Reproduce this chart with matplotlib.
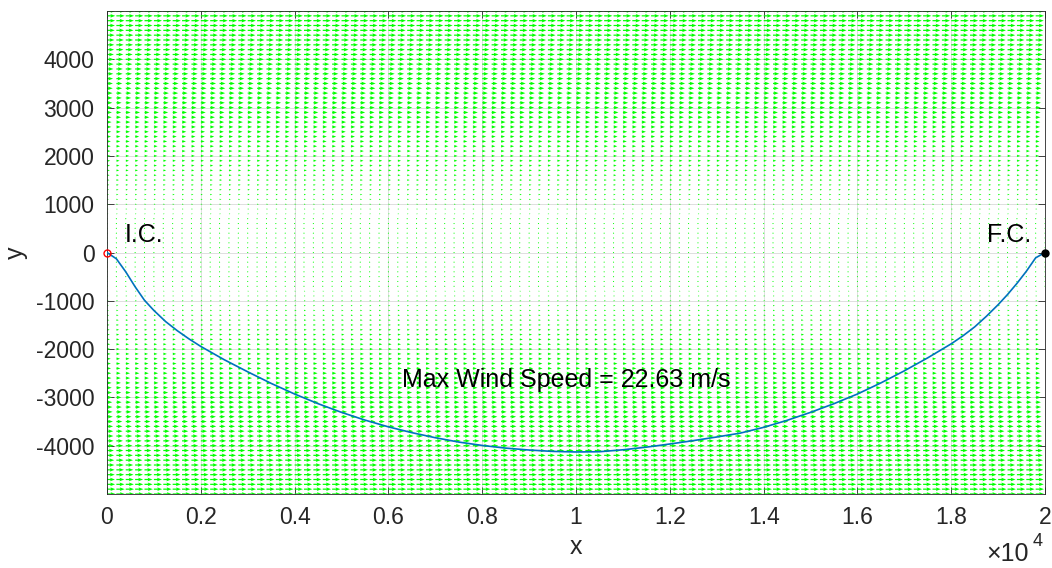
import numpy as np
import matplotlib
matplotlib.use('Agg')
import matplotlib.pyplot as plt

plt.rcParams['font.family'] = ['Liberation Sans', 'DejaVu Sans']

# trajectory
path_x = [0, 200, 400, 600, 800, 1000, 1250, 1500, 1750, 2000,
          2500, 3000, 3500, 4000, 4500, 5000, 5500, 6000, 6500, 7000, 7500, 8000,
          8500, 9000, 9500, 10000,
          10500, 11000, 11500, 12000, 12500, 13000, 13500, 14000, 14500, 15000,
          15500, 16000, 16500, 17000, 17500, 18000,
          18250, 18500, 18750, 19000, 19200, 19400, 19600, 19800, 20000]
path_y = [0, -130, -400, -710, -990, -1200, -1430, -1620, -1790, -1945,
          -2220, -2470, -2710, -2930, -3130, -3310, -3470, -3610, -3730, -3835, -3925, -3995,
          -4050, -4090, -4118, -4130,
          -4125, -4085, -4030, -3965, -3895, -3820, -3740, -3620, -3475, -3310,
          -3130, -2930, -2700, -2450, -2180, -1890,
          -1725, -1540, -1320, -1080, -870, -640, -390, -110, 0]

# wind field grid
field_x = np.arange(0, 20001, 200)
field_y = np.arange(-5000, 5001, 100)
max_wind = 22.63
xticks = [0, 2000, 4000, 6000, 8000, 10000, 12000, 14000, 16000, 18000, 20000]
xtick_labels = ['0', '0.2', '0.4', '0.6', '0.8', '1', '1.2', '1.4', '1.6', '1.8', '2']
yticks = [-4000, -3000, -2000, -1000, 0, 1000, 2000, 3000, 4000]

fig = plt.figure(figsize=(10.52, 5.68), dpi=100)
ax = fig.add_axes([0.1017, 0.1303, 0.8917, 0.8503])

X, Y = np.meshgrid(field_x, field_y)
U = max_wind * np.abs(Y) / 5000.0
V = np.zeros_like(U)
ax.quiver(X, Y, U, V, color=(0, 1, 0), angles='xy', scale_units='xy',
          scale=max_wind / 180.0, width=0.0013, headwidth=3, headlength=4,
          headaxislength=3.5, zorder=2)

ax.plot(path_x, path_y, color=(0, 0.447, 0.741), lw=1.2, zorder=3)
ax.plot([0], [0], 'o', mfc='none', mec='red', ms=5, mew=1, zorder=4, clip_on=False)
ax.plot([20000], [0], 'o', color='black', ms=5, zorder=4, clip_on=False)

ax.text(380, 370, 'I.C.', fontsize=18, va='center', ha='left')
ax.text(19700, 370, 'F.C.', fontsize=18, va='center', ha='right')
ax.text(6300, -2650, 'Max Wind Speed = 22.63 m/s', fontsize=18, va='center', ha='left')

ax.set_xlim(0, 20000)
ax.set_ylim(-5000, 5000)
ax.set_xticks(xticks)
ax.set_xticklabels(xtick_labels)
ax.set_yticks(yticks)
ax.set_yticklabels([str(v) for v in yticks])
ax.tick_params(direction='in', top=True, right=True, labelsize=16.5, colors='#262626',
               length=5, width=0.6, pad=9)
ax.grid(True, color='#dfdfdf', lw=0.7, zorder=1)
ax.set_axisbelow(True)
for s in ax.spines.values():
    s.set_color('#262626')
    s.set_linewidth(0.6)
ax.set_xlabel('x', fontsize=18, color='#262626', labelpad=4)
ax.set_ylabel('y', fontsize=18, color='#262626', labelpad=6)
fig.text(0.958, 0.012, '×10', fontsize=18, ha='center', va='baseline', color='#262626')
fig.text(0.986, 0.038, '4', fontsize=13, ha='center', va='baseline', color='#262626')

fig.savefig('out.png', dpi=100)
